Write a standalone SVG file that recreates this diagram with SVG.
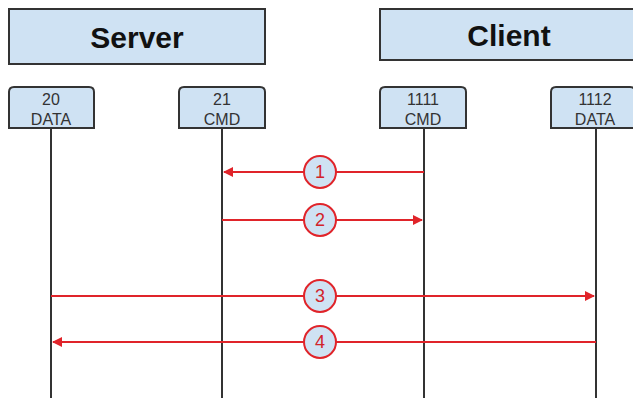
<svg xmlns="http://www.w3.org/2000/svg" width="633" height="398" viewBox="0 0 633 398">
<style>
.hdr{fill:#cfe2f3;stroke:#333;stroke-width:2}
.port{fill:#cfe2f3;stroke:#333;stroke-width:2}
.htxt{font-family:"Liberation Sans",Arial,sans-serif;font-weight:bold;font-size:30px;fill:#111;text-anchor:middle}
.ptxt{font-family:"Liberation Sans",Arial,sans-serif;font-size:16px;fill:#333;text-anchor:middle}
.life{stroke:#333;stroke-width:2;fill:none}
.msg{stroke:#e0242a;stroke-width:2;fill:none}
.num{fill:#cfe2f3;stroke:#e0242a;stroke-width:2}
.ntxt{font-family:"Liberation Sans",Arial,sans-serif;font-size:18px;fill:#d2232a;text-anchor:middle}
</style>
<defs>
<marker id="ah" viewBox="0 0 10 10" refX="9" refY="5" markerWidth="6" markerHeight="5" orient="auto" markerUnits="strokeWidth">
<path d="M0,0 L10,5 L0,10 z" fill="#e0242a"/>
</marker>
</defs>
<rect width="633" height="398" fill="#fff"/>
<g id="server">
<rect class="hdr" x="9" y="9" width="256" height="55"/>
<text class="htxt" x="137" y="48">Server</text>
</g>
<g id="client">
<rect class="hdr" x="380" y="9" width="270" height="51"/>
<text class="htxt" x="509" y="46">Client</text>
</g>
<g id="connectors">
<line class="life" x1="51" y1="128" x2="51" y2="398"/>
<line class="life" x1="222" y1="128" x2="222" y2="398"/>
<line class="life" x1="424" y1="128" x2="424" y2="398"/>
<line class="life" x1="596" y1="128" x2="596" y2="398"/>
<line class="msg" x1="424" y1="172" x2="224" y2="172" marker-end="url(#ah)"/>
<line class="msg" x1="222" y1="220" x2="422" y2="220" marker-end="url(#ah)"/>
<line class="msg" x1="51" y1="296" x2="594" y2="296" marker-end="url(#ah)"/>
<line class="msg" x1="596" y1="342" x2="53" y2="342" marker-end="url(#ah)"/>
</g>
<g id="p20">
<path class="port" d="M9,128 V92 Q9,87 14,87 H89 Q94,87 94,92 V128 Z"/>
<text class="ptxt" x="51" y="105">20</text>
<text class="ptxt" x="51" y="125">DATA</text>
</g>
<g id="p21">
<path class="port" d="M179,128 V92 Q179,87 184,87 H260 Q265,87 265,92 V128 Z"/>
<text class="ptxt" x="222" y="105">21</text>
<text class="ptxt" x="222" y="125">CMD</text>
</g>
<g id="p1111">
<path class="port" d="M380,128 V92 Q380,87 385,87 H461 Q466,87 466,92 V128 Z"/>
<text class="ptxt" x="423" y="105">1111</text>
<text class="ptxt" x="423" y="125">CMD</text>
</g>
<g id="p1112">
<path class="port" d="M551,128 V92 Q551,87 556,87 H630 Q635,87 635,92 V128 Z"/>
<text class="ptxt" x="595" y="105">1112</text>
<text class="ptxt" x="595" y="125">DATA</text>
</g>
<g id="n1"><circle class="num" cx="320" cy="172" r="16"/><text class="ntxt" x="320" y="178">1</text></g>
<g id="n2"><circle class="num" cx="320" cy="220" r="16"/><text class="ntxt" x="320" y="226">2</text></g>
<g id="n3"><circle class="num" cx="320" cy="296" r="16"/><text class="ntxt" x="320" y="302">3</text></g>
<g id="n4"><circle class="num" cx="320" cy="342" r="16"/><text class="ntxt" x="320" y="348">4</text></g>
</svg>
